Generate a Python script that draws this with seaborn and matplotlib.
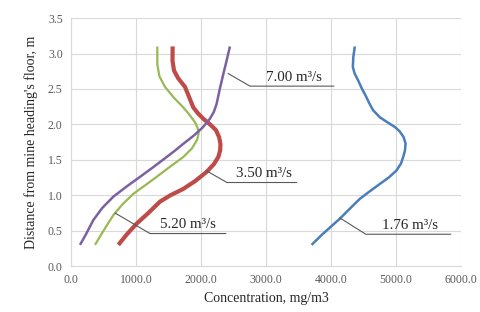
import matplotlib
matplotlib.use("Agg")
import matplotlib.pyplot as plt
import seaborn as sns
import pandas as pd

# concentration (mg/m3) vs height above floor (m)
h_176 = [0.30, 0.45, 0.67, 0.80, 0.95, 1.05, 1.16, 1.25, 1.35, 1.45, 1.54, 1.63, 1.73,
         1.82, 1.90, 1.96, 2.03, 2.10, 2.20, 2.30, 2.38, 2.50, 2.62, 2.72, 2.81, 2.95, 3.10]
c_176 = [3703, 3870, 4138, 4280, 4446, 4590, 4754, 4890, 5010, 5080, 5113, 5140, 5150,
         5120, 5060, 4990, 4870, 4754, 4650, 4590, 4549, 4480, 4420, 4365, 4338, 4345, 4369]

h_350 = [0.30, 0.45, 0.60, 0.75, 0.91, 1.00, 1.09, 1.20, 1.33, 1.44, 1.54, 1.63, 1.72,
         1.82, 1.92, 2.00, 2.08, 2.16, 2.24, 2.38, 2.53, 2.65, 2.76, 2.90, 3.10]
c_350 = [728, 860, 1010, 1190, 1369, 1530, 1728, 1910, 2087, 2200, 2267, 2295, 2300,
         2280, 2230, 2140, 2036, 1950, 1882, 1820, 1754, 1650, 1585, 1562, 1564]

h_520 = [0.30, 0.50, 0.72, 0.87, 1.02, 1.14, 1.26, 1.40, 1.54, 1.66, 1.78, 1.88, 1.96,
         2.03, 2.14, 2.24, 2.38, 2.53, 2.68, 2.85, 3.10]
c_520 = [369, 500, 651, 790, 959, 1140, 1318, 1520, 1728, 1860, 1940, 1965, 1945,
         1908, 1820, 1728, 1580, 1446, 1360, 1328, 1328]

h_700 = [0.30, 0.45, 0.65, 0.82, 0.98, 1.12, 1.26, 1.40, 1.54, 1.63, 1.72, 1.85, 1.96,
         2.08, 2.18, 2.29, 2.50, 2.71, 2.90, 3.10]
c_700 = [138, 230, 343, 480, 651, 850, 1062, 1270, 1472, 1600, 1720, 1900, 2030,
         2138, 2200, 2241, 2290, 2344, 2395, 2446]

labels = ["1.76 m³/s", "3.50 m³/s", "5.20 m³/s", "7.00 m³/s"]
colors = ["#4A7EBB", "#BE4B48", "#98B954", "#7D60A0"]
widths = [1.8, 3.0, 1.6, 1.8]

frames = []
for lab, h, c in zip(labels, [h_176, h_350, h_520, h_700], [c_176, c_350, c_520, c_700]):
    frames.append(pd.DataFrame({"conc": c, "height": h, "flow": lab}))
df = pd.concat(frames, ignore_index=True)

sns.set_style("white")
plt.rcParams["font.family"] = ["Liberation Serif", "DejaVu Serif"]

fig = plt.figure(figsize=(4.8, 3.12), dpi=100)
ax = fig.add_axes([0.148, 0.147, 0.812, 0.795])

for lab, col, lw in zip(labels, colors, widths):
    sub = df[df["flow"] == lab]
    sns.lineplot(data=sub, x="conc", y="height", sort=False, estimator=None,
                 color=col, linewidth=lw, ax=ax, solid_capstyle="butt",
                 solid_joinstyle="round")

# leader lines and labels: (point on curve, elbow, end of horizontal line, text centre)
callouts = [
    ((4138, 0.68), (4538, 0.45), 5846, 5215),
    ((2077, 1.35), (2400, 1.18), 3477, 2970),
    ((677, 0.75), (1215, 0.46), 2385, 1800),
    ((2415, 2.72), (2754, 2.54), 4046, 3430),
]
for lab, (p0, p1, xend, xt) in zip(labels, callouts):
    ax.plot([p0[0], p1[0], xend], [p0[1], p1[1], p1[1]], color="#595959", lw=0.8)
    ax.text(xt, p1[1] + 0.03, lab, ha="center", va="bottom", fontsize=10.8, color="#262626")

ax.set_xlim(0, 6000)
ax.set_ylim(0, 3.5)
ax.set_xticks(range(0, 6001, 1000))
ax.set_yticks([i * 0.5 for i in range(8)])
ax.set_xticklabels([f"{v:.1f}" for v in range(0, 6001, 1000)])
ax.set_yticklabels([f"{i * 0.5:.1f}" for i in range(8)])
ax.grid(True, color="#D9D9D9", linewidth=0.8)
for s in ["top", "right"]:
    ax.spines[s].set_visible(False)
for s in ["left", "bottom"]:
    ax.spines[s].set_color("#D9D9D9")
    ax.spines[s].set_linewidth(0.8)
ax.tick_params(axis="both", labelsize=8.5, colors="#595959", length=0, pad=6)

ax.set_xlabel("Concentration, mg/m3", fontsize=10, color="#262626", labelpad=4)
ax.set_ylabel("Distance from mine heading's floor, m", fontsize=10, color="#262626", labelpad=7)

fig.savefig("out.png", dpi=100)
